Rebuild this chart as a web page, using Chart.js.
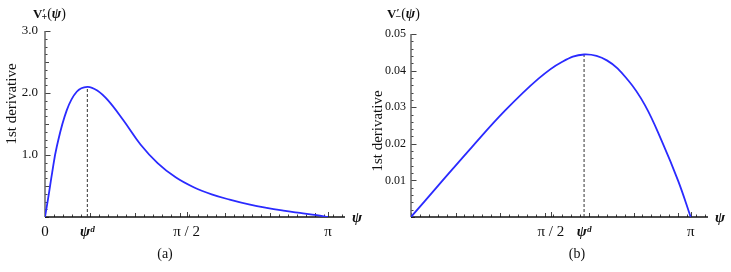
<!DOCTYPE html>
<html>
<head>
<meta charset="utf-8">
<script src="https://cdn.jsdelivr.net/npm/chart.js@4"></script>
<style>
  html, body { margin: 0; padding: 0; background: #fff; }
  #wrap { position: relative; width: 731px; height: 272px; overflow: hidden; }
  .panel { position: absolute; top: 0; }
</style>
</head>
<body>
<div id="wrap">
  <div class="panel" style="left:0px"><canvas id="chartA" width="365" height="272"></canvas></div>
  <div class="panel" style="left:365px"><canvas id="chartB" width="366" height="272"></canvas></div>
</div>
<script>
// panel (a): v'+(psi)
const psiA = [0, 0.037, 0.08, 0.13, 0.241, 0.352, 0.47, 0.58, 0.7, 0.87, 1.06, 1.25, 1.45, 1.65, 1.85, 2.05, 2.276, 2.46, 2.646, 2.83, 3.016, 3.1416];
const valA = [0, 0.32, 0.72, 1.13, 1.72, 2.02, 2.10, 2.04, 1.88, 1.56, 1.17, 0.87, 0.64, 0.48, 0.365, 0.28, 0.198, 0.146, 0.103, 0.066, 0.03, 0];
const peakA = [0.47, 2.10];

// panel (b): v'-(psi)
const psiB = [0, 0.31, 0.684, 1.058, 1.432, 1.69, 1.944, 2.2, 2.441, 2.629, 2.816, 3.002, 3.1416];
const valB = [0, 0.0087, 0.0191, 0.0291, 0.0378, 0.0423, 0.0444, 0.0428, 0.0373, 0.0305, 0.0208, 0.0098, 0];
const peakB = [1.944, 0.0444];

// tick labels
const xTickValsA = [0, peakA[0], Math.PI / 2, Math.PI];
const xTickLabelsA = ["0", "ψᵈ", "π / 2", "π"];
const yTickValsA = [1, 2, 3];
const yTickLabelsA = ["1.0", "2.0", "3.0"];

const xTickValsB = [Math.PI / 2, peakB[0], Math.PI];
const xTickLabelsB = ["π / 2", "ψᵈ", "π"];
const yTickValsB = [0.01, 0.02, 0.03, 0.04, 0.05];
const yTickLabelsB = ["0.01", "0.02", "0.03", "0.04", "0.05"];

const SERIF = "'Liberation Serif', 'DejaVu Serif', serif";

// axes + inward ticks, mathematica style
const axesPlugin = {
  id: "mmaAxes",
  beforeDatasetsDraw(chart, args, o) {
    const { ctx, chartArea: a, scales: { x, y } } = chart;
    ctx.save();
    ctx.lineWidth = 1;
    ctx.strokeStyle = "#444";
    // x ticks
    for (let k = 0; k * o.xMinor <= x.max + 1e-9; k++) {
      const v = k * o.xMinor;
      const px = Math.round(x.getPixelForValue(v)) + 0.5;
      const len = (k % 5 === 0) ? 4 : 2.5;
      ctx.beginPath(); ctx.moveTo(px, a.bottom); ctx.lineTo(px, a.bottom - len); ctx.stroke();
    }
    o.xMajor.forEach(v => {
      const px = Math.round(x.getPixelForValue(v)) + 0.5;
      ctx.beginPath(); ctx.moveTo(px, a.bottom); ctx.lineTo(px, a.bottom - 5); ctx.stroke();
    });
    // y ticks
    for (let k = 0; k * o.yMinor <= y.max + 1e-12; k++) {
      const v = k * o.yMinor;
      const py = Math.round(y.getPixelForValue(v)) + 0.5;
      const len = (k % o.yMid === 0) ? 4 : 2.5;
      ctx.beginPath(); ctx.moveTo(a.left, py); ctx.lineTo(a.left + len, py); ctx.stroke();
    }
    o.yMajor.forEach(v => {
      const py = Math.round(y.getPixelForValue(v)) + 0.5;
      ctx.beginPath(); ctx.moveTo(a.left, py); ctx.lineTo(a.left + 5.5, py); ctx.stroke();
    });
    // axis lines
    ctx.strokeStyle = "#666";
    ctx.lineWidth = 1.5;
    ctx.beginPath(); ctx.moveTo(a.left, a.top); ctx.lineTo(a.left, a.bottom); ctx.stroke();
    ctx.strokeStyle = "#111";
    ctx.lineWidth = 1.3;
    ctx.beginPath(); ctx.moveTo(a.left, a.bottom); ctx.lineTo(a.right, a.bottom); ctx.stroke();
    ctx.restore();
  },
  afterDraw(chart, args, o) {
    const { ctx, chartArea: a } = chart;
    ctx.save();
    ctx.fillStyle = "#111";
    ctx.textBaseline = "alphabetic";
    // title v'±(psi)
    let tx = o.titleX;
    const ty = 18;
    const run = (txt, font, dy) => {
      ctx.font = font;
      ctx.fillText(txt, tx, ty + (dy || 0));
      tx += ctx.measureText(txt).width;
    };
    run("V", "bold 13px " + SERIF);
    run("′", "bold 11px " + SERIF, -2);
    tx -= 4;
    run(o.sub, "bold 10px " + SERIF, 2);
    run("(", "14px " + SERIF);
    run("ψ", "bold italic 14px " + SERIF);
    run(")", "14px " + SERIF);
    // y axis title
    ctx.save();
    ctx.translate(o.ytX, o.ytY);
    ctx.rotate(-Math.PI / 2);
    ctx.textAlign = "center";
    ctx.textBaseline = "alphabetic";
    ctx.font = "15px " + SERIF;
    ctx.fillText("1st derivative", 0, 0);
    ctx.restore();
    // caption
    ctx.textAlign = "center";
    ctx.font = "14px " + SERIF;
    ctx.fillText(o.caption, o.capX, 258);
    // psi at the end of x axis
    ctx.textAlign = "left";
    ctx.font = "bold italic 15px " + SERIF;
    ctx.textBaseline = "middle";
    ctx.fillText("ψ", a.right + 7, a.bottom + 1);
    ctx.restore();
  }
};

function makeChart(id, psi, vals, peak, xv, xl, yv, yl, ymax, pad, yWidth, extra) {
  const pts = psi.map((p, i) => ({ x: p, y: vals[i] }));
  return new Chart(document.getElementById(id), {
    type: "line",
    data: {
      datasets: [
        {
          data: pts,
          borderColor: "#2a2aff",
          borderWidth: 1.8,
          pointRadius: 0,
          tension: 0.4,
          fill: false,
        },
        {
          data: [{ x: peak[0], y: 0 }, { x: peak[0], y: peak[1] }],
          borderColor: "#333",
          borderWidth: 1,
          borderDash: [3, 2],
          pointRadius: 0,
          fill: false,
        },
      ],
    },
    options: {
      responsive: false,
      animation: false,
      devicePixelRatio: 1,
      layout: { padding: pad },
      plugins: {
        legend: { display: false },
        tooltip: { enabled: false },
        mmaAxes: extra,
      },
      scales: {
        x: {
          type: "linear",
          min: 0,
          max: extra.xmax,
          grid: { display: false, drawTicks: false },
          border: { display: false },
          afterBuildTicks: (s) => { s.ticks = xv.map(v => ({ value: v })); },
          afterFit: (s) => { s.height = 25; },
          ticks: {
            autoSkip: false,
            maxRotation: 0,
            padding: 6,
            color: "#111",
            font: (c) => (c.tick && c.index === xl.indexOf("ψᵈ"))
              ? { family: SERIF, size: 15, weight: "bold", style: "italic" }
              : { family: SERIF, size: 15 },
            callback: (v, i) => xl[i],
          },
        },
        y: {
          min: 0,
          max: ymax,
          grid: { display: false, drawTicks: false },
          border: { display: false },
          afterBuildTicks: (s) => { s.ticks = yv.map(v => ({ value: v })); },
          afterFit: (s) => { s.width = yWidth; },
          ticks: {
            autoSkip: false,
            padding: extra.yPad,
            color: "#111",
            font: { family: SERIF, size: extra.yFont },
            callback: (v, i) => yl[i],
          },
        },
      },
    },
    plugins: [axesPlugin],
  });
}

makeChart("chartA", psiA, valA, peakA, xTickValsA, xTickLabelsA, yTickValsA, yTickLabelsA, 3.0,
  { left: 0, top: 31, right: 20, bottom: 30 }, 45,
  { xmax: 3.33, xMinor: 0.1, xMajor: [0, Math.PI / 2, Math.PI], yMinor: 0.125, yMid: 4, yMajor: yTickValsA,
    yPad: 7, yFont: 13, titleX: 33, sub: "+", ytX: 16, ytY: 104, caption: "(a)", capX: 165 });

makeChart("chartB", psiB, valB, peakB, xTickValsB, xTickLabelsB, yTickValsB, yTickLabelsB, 0.05,
  { left: 0, top: 34, right: 23, bottom: 30 }, 46,
  { xmax: 3.336, xMinor: 0.1, xMajor: [Math.PI / 2, Math.PI], yMinor: 0.002, yMid: 5, yMajor: yTickValsB,
    yPad: 5, yFont: 12, titleX: 22, sub: "−", ytX: 17, ytY: 131, caption: "(b)", capX: 212 });
</script>
</body>
</html>
